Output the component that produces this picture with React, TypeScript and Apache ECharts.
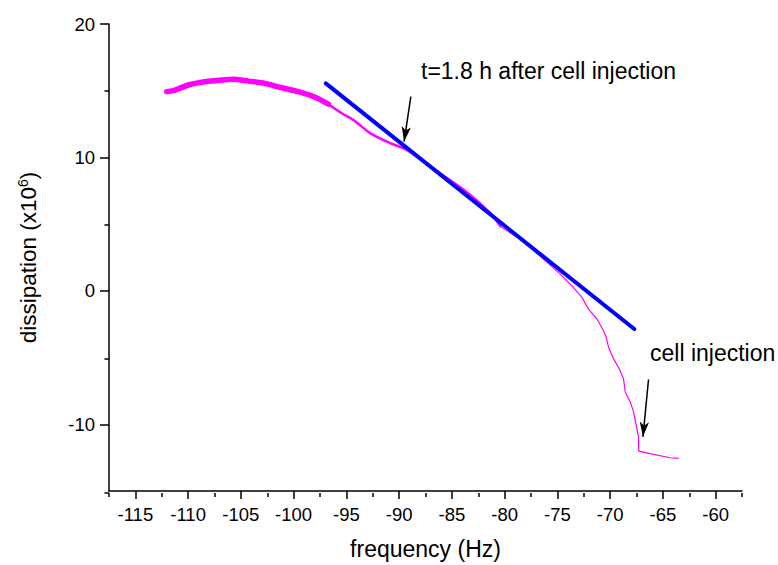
import React, { useEffect, useRef } from "react";
import * as echarts from "echarts";

// Axis ticks
const xMajorTicks = [-115, -110, -105, -100, -95, -90, -85, -80, -75, -70, -65, -60];
const xMinorTicks = [-117.5, -112.5, -107.5, -102.5, -97.5, -92.5, -87.5, -82.5, -77.5, -72.5, -67.5, -62.5, -57.5];
const yMajorTicks = [-10, 0, 10, 20];
const yMinorTicks = [-15, -5, 5, 15];

// Measured trace (frequency Hz, dissipation x10^6), split by apparent trace thickness
const earlyFreq = [-112.03, -111.24, -109.98, -108.4, -106.81, -105.71, -104.29, -102.71, -101.12, -99.55, -97.96, -96.7];
const earlyDiss = [14.93, 15.05, 15.43, 15.67, 15.8, 15.85, 15.72, 15.55, 15.22, 14.93, 14.51, 13.99];

const midFreq = [-96.7, -95.43, -94.33, -92.75, -90.85, -89.27, -87.06, -83.9, -81.37, -80.42];
const midDiss = [13.99, 13.31, 12.81, 11.82, 11.07, 10.57, 9.33, 7.59, 5.85, 4.85];

const lateFreq = [-80.42, -78.52, -76.63, -74.73, -73.47, -72.67, -72.05, -71.25, -70.62, -70.37, -70.15, -69.68, -69.14, -68.73, -68.57, -68.09, -67.78, -67.46, -67.31, -67.29, -65.88, -64.3, -63.51];
const lateDiss = [4.85, 3.86, 2.61, 1.25, 0.25, -0.49, -1.37, -2.11, -2.99, -3.48, -4.22, -5.1, -5.84, -6.59, -7.58, -8.33, -9.07, -10.32, -10.94, -12.01, -12.26, -12.51, -12.56];

// Linear fit line
const fitFreq = [-96.95, -67.71];
const fitDiss = [15.55, -2.86];

// Arrows [from, to]
const arrowAfter = [[-88.89, 14.55], [-89.53, 11.19]];
const arrowInjection = [[-66.36, -6.64], [-66.89, -10.94]];

const zip = (a: number[], b: number[]) => a.map((v, i) => [v, b[i]]);

const FONT = "'Liberation Sans', Arial, sans-serif";
const MAGENTA = "#ff00ff";

export default function App() {
  const ref = useRef<HTMLDivElement>(null);
  useEffect(() => {
    if (!ref.current) return;
    const chart = echarts.init(ref.current, undefined, { renderer: "svg" });
    const gridPos = { left: 109, top: 24, right: 36, bottom: 72, containLabel: false };
    const axisLine = { show: true, onZero: false, lineStyle: { color: "#000", width: 1.5 } };
    const hiddenLine = { show: false, onZero: false };
    chart.setOption({
      animation: false,
      backgroundColor: "#fff",
      grid: [gridPos, gridPos],
      xAxis: [
        {
          type: "value",
          gridIndex: 0,
          min: -117.5,
          max: -57.5,
          interval: 2.5,
          axisLine,
          axisTick: { show: true, inside: false, length: 8, customValues: xMajorTicks, lineStyle: { color: "#000", width: 1.5 } },
          axisLabel: { customValues: xMajorTicks, color: "#000", fontSize: 18.5, fontFamily: FONT, margin: 14 },
          splitLine: { show: false },
          name: "frequency (Hz)",
          nameLocation: "middle",
          nameGap: 46,
          nameTextStyle: { color: "#000", fontSize: 23, fontFamily: FONT },
        },
        {
          type: "value",
          gridIndex: 1,
          min: -117.5,
          max: -57.5,
          interval: 2.5,
          axisLine: hiddenLine,
          axisTick: { show: true, inside: false, length: 4, customValues: xMinorTicks, lineStyle: { color: "#000", width: 1.5 } },
          axisLabel: { show: false },
          splitLine: { show: false },
        },
      ],
      yAxis: [
        {
          type: "value",
          gridIndex: 0,
          min: -15,
          max: 20,
          interval: 5,
          axisLine,
          axisTick: { show: true, inside: false, length: 9, customValues: yMajorTicks, lineStyle: { color: "#000", width: 1.5 } },
          axisLabel: { customValues: yMajorTicks, color: "#000", fontSize: 18.5, fontFamily: FONT, margin: 14 },
          splitLine: { show: false },
          name: "{a|dissipation (x10}{s|6}{a|)}",
          nameLocation: "middle",
          nameGap: 68,
          nameTextStyle: {
            color: "#000",
            fontFamily: FONT,
            rich: {
              a: { fontSize: 22.5, fontFamily: FONT, color: "#000" },
              s: { fontSize: 14, fontFamily: FONT, color: "#000", padding: [0, 0, 11, 0] },
            },
          },
        },
        {
          type: "value",
          gridIndex: 1,
          min: -15,
          max: 20,
          interval: 5,
          axisLine: hiddenLine,
          axisTick: { show: true, inside: false, length: 4.5, customValues: yMinorTicks, lineStyle: { color: "#000", width: 1.5 } },
          axisLabel: { show: false },
          splitLine: { show: false },
        },
      ],
      series: [
        {
          type: "line",
          xAxisIndex: 0,
          yAxisIndex: 0,
          data: zip(earlyFreq, earlyDiss),
          showSymbol: false,
          symbol: "none",
          smooth: 0.3,
          lineStyle: { color: MAGENTA, width: 5.5, cap: "round", join: "round" },
          z: 2,
        },
        {
          type: "line",
          xAxisIndex: 0,
          yAxisIndex: 0,
          data: zip(midFreq, midDiss),
          showSymbol: false,
          symbol: "none",
          smooth: 0.3,
          lineStyle: { color: MAGENTA, width: 2.5, cap: "round", join: "round" },
          z: 2,
        },
        {
          type: "line",
          xAxisIndex: 0,
          yAxisIndex: 0,
          data: zip(lateFreq, lateDiss),
          showSymbol: false,
          symbol: "none",
          lineStyle: { color: MAGENTA, width: 1.2 },
          z: 2,
        },
        {
          type: "line",
          xAxisIndex: 0,
          yAxisIndex: 0,
          data: zip(fitFreq, fitDiss),
          showSymbol: false,
          symbol: "none",
          lineStyle: { color: "#0000ff", width: 4, cap: "round" },
          z: 3,
          markLine: {
            silent: true,
            symbol: ["none", "arrow"],
            symbolSize: [7, 15],
            label: { show: false },
            lineStyle: { color: "#000", width: 1.5, type: "solid" },
            data: [
              [{ coord: arrowAfter[0] }, { coord: arrowAfter[1] }],
              [{ coord: arrowInjection[0] }, { coord: arrowInjection[1] }],
            ],
          },
        },
      ],
      graphic: [
        {
          type: "text",
          x: 421,
          y: 71,
          style: { text: "t=1.8 h after cell injection", fontSize: 23, fontFamily: FONT, fill: "#000", textVerticalAlign: "middle", textAlign: "left" },
        },
        {
          type: "text",
          x: 650,
          y: 353,
          style: { text: "cell injection", fontSize: 23, fontFamily: FONT, fill: "#000", textVerticalAlign: "middle", textAlign: "left" },
        },
      ],
    });
    return () => chart.dispose();
  }, []);
  return (
    <div
      ref={ref}
      style={{ position: "fixed", left: 0, top: 0, width: 778, height: 565, background: "#fff" }}
    />
  );
}
